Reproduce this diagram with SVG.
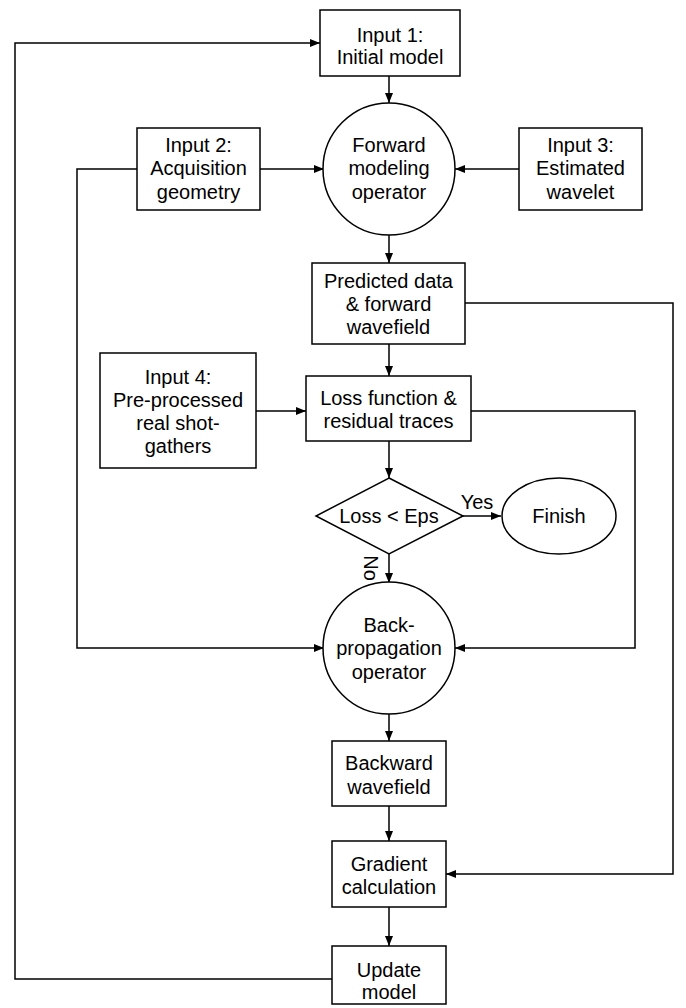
<svg xmlns="http://www.w3.org/2000/svg" width="686" height="1008" viewBox="0 0 686 1008">
<style>
.n{fill:#fff;stroke:#000;stroke-width:1.5}
.c{fill:none;stroke:#000;stroke-width:1.5}
text{font-family:"Liberation Sans",Arial,sans-serif;font-size:20px;fill:#000;text-anchor:middle}
</style>
<defs>
<marker id="a" viewBox="0 0 10 8" refX="10" refY="4" markerWidth="10" markerHeight="8" markerUnits="userSpaceOnUse" orient="auto"><path d="M0,0 L10,4 L0,8 Z" fill="#000"/></marker>
</defs>
<rect width="686" height="1008" fill="#fff"/>
<g id="connectors">
<path class="c" d="M389,76 V103" marker-end="url(#a)"/>
<path class="c" d="M260,169 H324" marker-end="url(#a)"/>
<path class="c" d="M519,169 H455" marker-end="url(#a)"/>
<path class="c" d="M389,235 V263" marker-end="url(#a)"/>
<path class="c" d="M389,344 V376" marker-end="url(#a)"/>
<path class="c" d="M256,411 H306" marker-end="url(#a)"/>
<path class="c" d="M389,441 V478" marker-end="url(#a)"/>
<path class="c" d="M463,516 H501" marker-end="url(#a)"/>
<path class="c" d="M389,554 V583" marker-end="url(#a)"/>
<path class="c" d="M389,714 V741" marker-end="url(#a)"/>
<path class="c" d="M389,806 V841" marker-end="url(#a)"/>
<path class="c" d="M389,907 V946" marker-end="url(#a)"/>
<path class="c" d="M137,169 H77 V648 H324" marker-end="url(#a)"/>
<path class="c" d="M471,411 H635 V648 H455" marker-end="url(#a)"/>
<path class="c" d="M465,303 H673 V874 H446" marker-end="url(#a)"/>
<path class="c" d="M332,979 H15 V43 H320" marker-end="url(#a)"/>
</g>
<g id="input1"><rect class="n" x="320" y="10" width="140" height="66"/><text x="390" y="42">Input 1:</text><text x="390" y="64">Initial model</text></g>
<g id="forward"><circle class="n" cx="389" cy="169" r="66"/><text x="389" y="152">Forward</text><text x="389" y="175">modeling</text><text x="389" y="199">operator</text></g>
<g id="input2"><rect class="n" x="137" y="128" width="123" height="82"/><text x="198.5" y="152">Input 2:</text><text x="198.5" y="175">Acquisition</text><text x="198.5" y="199">geometry</text></g>
<g id="input3"><rect class="n" x="519" y="128" width="123" height="82"/><text x="580.5" y="152">Input 3:</text><text x="580.5" y="175">Estimated</text><text x="580.5" y="199">wavelet</text></g>
<g id="predicted"><rect class="n" x="312" y="263" width="153" height="81"/><text x="388.5" y="288">Predicted data</text><text x="388.5" y="311">&amp; forward</text><text x="388.5" y="334">wavefield</text></g>
<g id="input4"><rect class="n" x="100" y="353" width="156" height="115"/><text x="178" y="384">Input 4:</text><text x="178" y="407">Pre-processed</text><text x="178" y="430">real shot-</text><text x="178" y="453">gathers</text></g>
<g id="loss"><rect class="n" x="306" y="376" width="165" height="65"/><text x="388.5" y="405">Loss function &amp;</text><text x="388.5" y="428">residual traces</text></g>
<g id="decision"><polygon class="n" points="389,478 463,516 389,554 316,516"/><text x="389" y="523">Loss &lt; Eps</text></g>
<g id="finish"><ellipse class="n" cx="559" cy="516" rx="57" ry="38"/><text x="559" y="523">Finish</text></g>
<g id="labels"><text x="477" y="509">Yes</text><text x="0" y="0" transform="translate(371,568) rotate(90)" dy="7">No</text></g>
<g id="backprop"><circle class="n" cx="389" cy="648" r="66"/><text x="389" y="632">Back-</text><text x="389" y="655">propagation</text><text x="389" y="679">operator</text></g>
<g id="backward"><rect class="n" x="332" y="741" width="114" height="65"/><text x="389" y="770">Backward</text><text x="389" y="794">wavefield</text></g>
<g id="gradient"><rect class="n" x="332" y="841" width="114" height="66"/><text x="389" y="871">Gradient</text><text x="389" y="894">calculation</text></g>
<g id="update"><rect class="n" x="332" y="946" width="114" height="58"/><text x="389" y="977">Update</text><text x="389" y="999">model</text></g>
</svg>
